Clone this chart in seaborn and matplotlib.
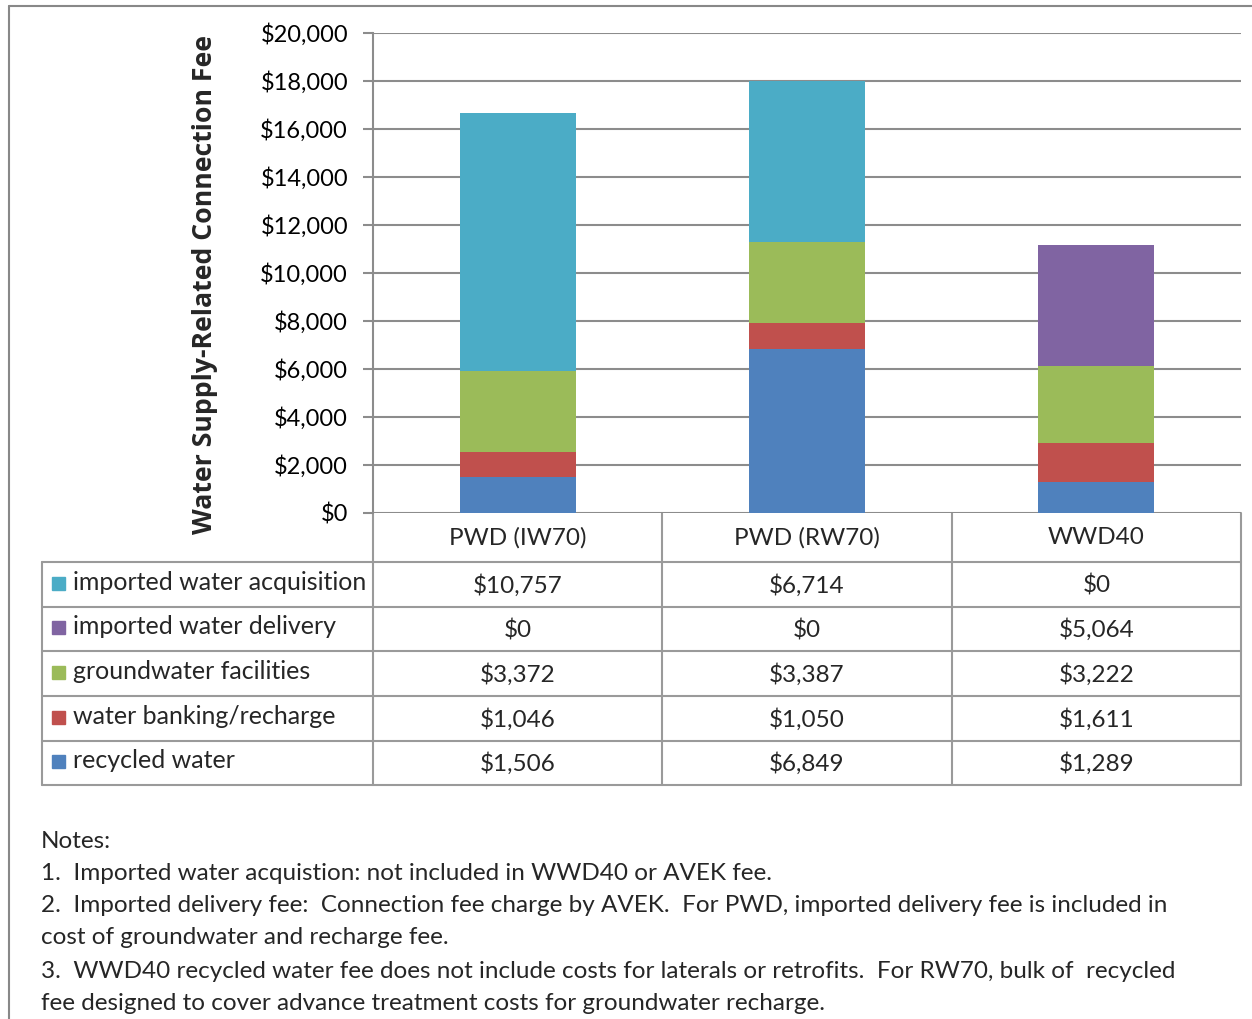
import matplotlib
matplotlib.use("Agg")
import matplotlib.pyplot as plt
import seaborn as sns
import pandas as pd
import numpy as np
from matplotlib.patches import Rectangle
from matplotlib.ticker import FuncFormatter

# ---- data ----
categories = ["PWD (IW70)", "PWD (RW70)", "WWD40"]
series_names = ["imported water acquisition", "imported water delivery",
                "groundwater facilities", "water banking/recharge", "recycled water"]
acquisition = [10757, 6714, 0]
delivery = [0, 0, 5064]
groundwater = [3372, 3387, 3222]
banking = [1046, 1050, 1611]
recycled = [1506, 6849, 1289]
colors = ["#4BACC6", "#8064A2", "#9BBB59", "#C0504D", "#4F81BD"]
y_ticks = [0, 2000, 4000, 6000, 8000, 10000, 12000, 14000, 16000, 18000, 20000]
notes = [
    "Notes:",
    "1.  Imported water acquistion: not included in WWD40 or AVEK fee.",
    "2.  Imported delivery fee:  Connection fee charge by AVEK.  For PWD, imported delivery fee is included in",
    "cost of groundwater and recharge fee.",
    "3.  WWD40 recycled water fee does not include costs for laterals or retrofits.  For RW70, bulk of  recycled",
    "fee designed to cover advance treatment costs for groundwater recharge.",
]

series_vals = [acquisition, delivery, groundwater, banking, recycled]

sns.set_theme(style="white")
FONT = ["Lato", "DejaVu Sans"]
plt.rcParams["font.family"] = FONT
FS = 17.5

W, H = 1252, 1019
fig = plt.figure(figsize=(W / 100, H / 100), dpi=100)
fig.patch.set_facecolor("white")

# pixel overlay axes
ov = fig.add_axes([0, 0, 1, 1])
ov.set_xlim(0, W)
ov.set_ylim(H, 0)
ov.axis("off")

ax_l, ax_r, ax_t, ax_b = 373, 1241, 33, 513
ax = fig.add_axes([ax_l / W, 1 - ax_b / H, (ax_r - ax_l) / W, (ax_b - ax_t) / H])

# stacked bars via overlapping cumulative totals (bottom series = recycled)
bottom_up = list(zip(series_names, series_vals, colors))[::-1]
cum = np.zeros(len(categories))
cums = []
for name, vals, col in bottom_up:
    cum = cum + np.array(vals)
    cums.append((name, cum.copy(), col))
for name, c, col in cums[::-1]:
    df = pd.DataFrame({"cat": categories, "val": c})
    sns.barplot(data=df, x="cat", y="val", color=col, saturation=1, width=0.4,
                ax=ax, order=categories, linewidth=0, zorder=3)

ax.set_xlim(-0.5, 2.5)
ax.set_ylim(0, 20000)
ax.set_yticks(y_ticks)
ax.yaxis.set_major_formatter(FuncFormatter(lambda v, p: f"${int(v):,}"))
ax.set_xticks([])
ax.set_xlabel("")
ax.set_ylabel("")
for s in ["top", "right", "bottom"]:
    ax.spines[s].set_visible(False)
ax.spines["left"].set_color("#8C8C8C")
ax.spines["left"].set_linewidth(1.5)
ax.grid(axis="y", color="#8C8C8C", linewidth=1.5, zorder=0)
ax.set_axisbelow(True)
ax.tick_params(axis="y", length=7, width=1.5, color="#8C8C8C", labelsize=17,
               pad=11, left=True, labelcolor="black")
ax.set_facecolor("white")

fig.text(205 / W, 1 - 285 / H, "Water Supply-Related Connection Fee", rotation=90,
         ha="center", va="center", fontsize=19.2, fontweight="bold",
         family=["Open Sans", "DejaVu Sans"])

# table
gc = "#9A9A9A"
lw = 1.5
col_edges = [373, 662, 952, 1241]
row_edges = [562, 607, 651, 696, 741, 785]
tbl_left = 42
for x in col_edges:
    ov.plot([x, x], [513, 785], color=gc, lw=lw)
ov.plot([tbl_left, tbl_left], [562, 785], color=gc, lw=lw)
for y in row_edges:
    ov.plot([tbl_left, 1241], [y, y], color=gc, lw=lw)

centers = [ax.transData.transform((i, 0))[0] for i in range(3)]
for i, c in enumerate(categories):
    ov.text(centers[i], 538, c, ha="center", va="center", fontsize=FS)
for r, (name, vals, col) in enumerate(zip(series_names, series_vals, colors)):
    yc = (row_edges[r] + row_edges[r + 1]) / 2
    ov.add_patch(Rectangle((52, yc - 8), 13, 13, color=col))
    ov.text(73, yc - 2, name, ha="left", va="center", fontsize=18)
    for i, v in enumerate(vals):
        ov.text(centers[i], yc + 1, f"${v:,}", ha="center", va="center", fontsize=FS)

# notes
note_y = [841, 873, 906, 938, 971, 1003]
for t, y in zip(notes, note_y):
    ov.text(41, y, t, ha="left", va="center", fontsize=FS)

# outer frame
ov.plot([9, 1252], [6, 6], color="#888888", lw=1.5)
ov.plot([9, 9], [6, 1019], color="#888888", lw=1.5)

fig.savefig("out.png", dpi=100, facecolor="white")
